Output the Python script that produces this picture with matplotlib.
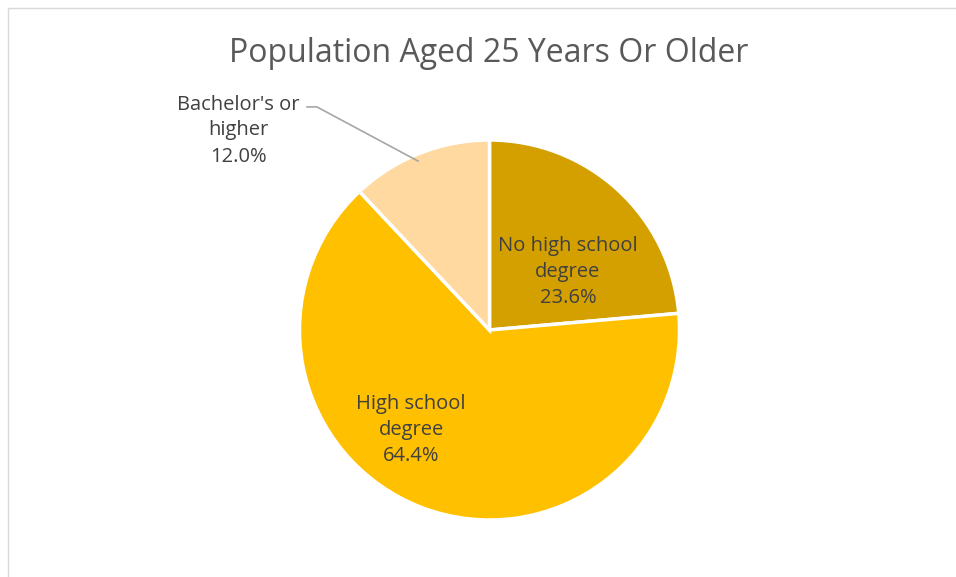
import matplotlib.pyplot as plt
from matplotlib.patches import Rectangle

labels = ["No high school\ndegree", "High school\ndegree", "Bachelor's or\nhigher"]
shares = [23.6, 64.4, 12.0]
colors = ["#D4A000", "#FFC000", "#FFD9A0"]

plt.rcParams['font.family'] = ['Open Sans', 'DejaVu Sans']

fig = plt.figure(figsize=(9.56, 5.77), dpi=100)
fig.patches.append(Rectangle((8 / 956, -0.1), 1.2, 1 - 8 / 577 + 0.1, transform=fig.transFigure,
                             fill=False, edgecolor="#D9D9D9", linewidth=1))
fig.text(489 / 956, 1 - 53 / 577, "Population Aged 25 Years Or Older", ha="center", va="center",
         fontsize=23, color="#595959")

# pie centre (489.5, 330) px, radius 190 px
ax = fig.add_axes([(489.5 - 190) / 956, (247 - 190) / 577, 380 / 956, 380 / 577])
ax.pie(shares, colors=colors, startangle=90, counterclock=False,
       wedgeprops=dict(edgecolor="white", linewidth=2.5))
ax.set_xlim(-1, 1)
ax.set_ylim(-1, 1)
ax.set_aspect("equal")

txt = dict(ha="center", va="center", fontsize=14.5, color="#404040", linespacing=1.4)
ax.text(0.413, 0.305, f"{labels[0]}\n{shares[0]:.1f}%", **txt)
ax.text(-0.413, -0.526, f"{labels[1]}\n{shares[1]:.1f}%", **txt)
ax.text(-1.323, 1.05, f"{labels[2]}\n{shares[2]:.1f}%", clip_on=False, **txt)
ax.plot([-0.96, -0.908, -0.376], [1.174, 1.174, 0.889], color="#A6A6A6", lw=1.2, clip_on=False)

fig.savefig("out.png", dpi=100)
